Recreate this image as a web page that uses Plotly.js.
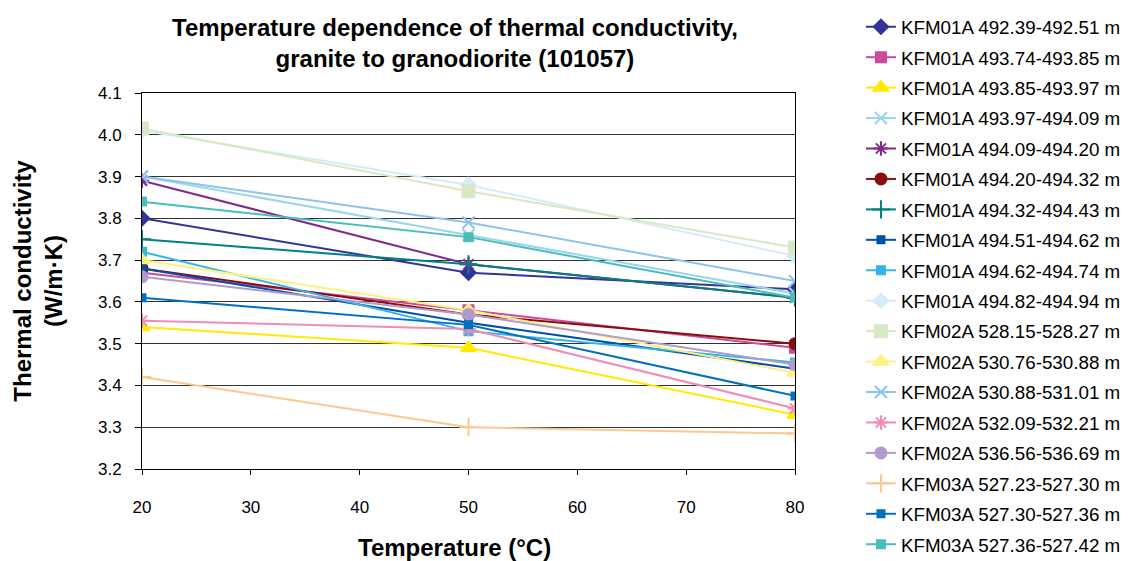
<!DOCTYPE html>
<html><head><meta charset="utf-8">
<script src="https://cdn.plot.ly/plotly-3.0.1.min.js"></script>
<style>html,body{margin:0;padding:0;background:#fff}#chart{width:1129px;height:561px}</style>
</head><body><div id="chart"></div>
<script>
const temperatures = [20, 50, 80];
const seriesNames = [
  "KFM01A 492.39-492.51 m","KFM01A 493.74-493.85 m","KFM01A 493.85-493.97 m",
  "KFM01A 493.97-494.09 m","KFM01A 494.09-494.20 m","KFM01A 494.20-494.32 m",
  "KFM01A 494.32-494.43 m","KFM01A 494.51-494.62 m","KFM01A 494.62-494.74 m",
  "KFM01A 494.82-494.94 m","KFM02A 528.15-528.27 m","KFM02A 530.76-530.88 m",
  "KFM02A 530.88-531.01 m","KFM02A 532.09-532.21 m","KFM02A 536.56-536.69 m",
  "KFM03A 527.23-527.30 m","KFM03A 527.30-527.36 m","KFM03A 527.36-527.42 m"
];
const s01 = [3.80, 3.67, 3.63];
const s02 = [3.67, 3.58, 3.49];
const s03 = [3.54, 3.49, 3.33];
const s04 = [3.90, 3.76, 3.62];
const s05 = [3.89, 3.69, 3.61];
const s06 = [3.68, 3.57, 3.50];
const s07 = [3.75, 3.69, 3.61];
const s08 = [3.68, 3.55, 3.44];
const s09 = [3.72, 3.53, 3.455];
const s10 = [4.01, 3.88, 3.71];
const s11 = [4.015, 3.865, 3.73];
const s12 = [3.70, 3.58, 3.43];
const s13 = [3.90, 3.79, 3.65];
const s14 = [3.555, 3.535, 3.345];
const s15 = [3.66, 3.57, 3.45];
const s16 = [3.42, 3.30, 3.285];
const s17 = [3.61, 3.545, 3.375];
const s18 = [3.84, 3.755, 3.61];
const seriesValues = [s01,s02,s03,s04,s05,s06,s07,s08,s09,s10,s11,s12,s13,s14,s15,s16,s17,s18];
const yTicks = [3.2,3.3,3.4,3.5,3.6,3.7,3.8,3.9,4.0,4.1];
const yTickLabels = ["3.2","3.3","3.4","3.5","3.6","3.7","3.8","3.9","4.0","4.1"];
const xTicks = [20,30,40,50,60,70,80];

const colors = ["#333399","#cc4a9a","#ffea00","#99d5ee","#7f2a8a","#8b0d10","#008080","#0050a8","#33b5e8",
  "#d5ecf8","#d8e8c4","#fff080","#8fc3ee","#f08cb8","#b09ccc","#fcc88f","#0070c0","#4bbcbc"];
const symbols = ["diamond","square","triangle-up","x-thin-open","asterisk-open","circle","cross-thin-open","square","square",
  "diamond","square","triangle-up","x-thin-open","asterisk-open","circle","cross-thin-open","square","square"];
const sizes = [11,10,13,12,12,11,13,7,8,11,12,13,12,12,11,13,7,8];

const traces = seriesNames.map((n,i)=>({
  x: temperatures, y: seriesValues[i], name: n, type:'scatter', mode:'lines+markers',
  legendgroup: 'g'+i,
  line:{color:colors[i], width:2},
  marker:{symbol:symbols[i], size:sizes[i], color:colors[i], line:{color:colors[i], width:2}}
}));

const layout = {
  width:1129, height:561,
  margin:{l:142, r:334, t:93, b:92, autoexpand:false},
  paper_bgcolor:'#fff', plot_bgcolor:'#fff',
  font:{family:'Liberation Sans, Arial, sans-serif', color:'#000', size:17},
  title:{text:'<b>Temperature dependence of thermal conductivity,<br>granite to granodiorite (101057)</b>',
    x:0.403, xanchor:'center', yref:'container', y:0.936, yanchor:'middle', font:{size:24, color:'#000'}},
  xaxis:{range:[20,80], tickvals:xTicks, ticks:'outside', ticklen:5, tickcolor:'#000',
    showline:true, linecolor:'#000', mirror:true, showgrid:false, zeroline:false,
    ticklabelstandoff:18, tickfont:{size:17}},
  yaxis:{range:[3.2,4.1], tickvals:yTicks, ticktext:yTickLabels, ticks:'outside', ticklen:6, tickcolor:'#000',
    showline:true, linecolor:'#000', mirror:true, showgrid:true, gridcolor:'#333', gridwidth:1, zeroline:false,
    ticklabelstandoff:10, tickfont:{size:17}, title:{text:'<b>Thermal conductivity<br>(W/m·K)</b>', font:{size:24}, standoff:28}},
  annotations:[{text:'<b>Temperature (°C)</b>', xref:'paper', yref:'paper', x:0.478, y:-0.21,
    xanchor:'center', yanchor:'middle', showarrow:false, font:{size:24}}],
  showlegend:true,
  legend:{x:1.101, xanchor:'left', y:1.226, yanchor:'top', font:{size:18.8}, tracegroupgap:3,
    maxheight:600, bgcolor:'rgba(0,0,0,0)'}
};
Plotly.newPlot('chart', traces, layout, {displayModeBar:false});
</script></body></html>
